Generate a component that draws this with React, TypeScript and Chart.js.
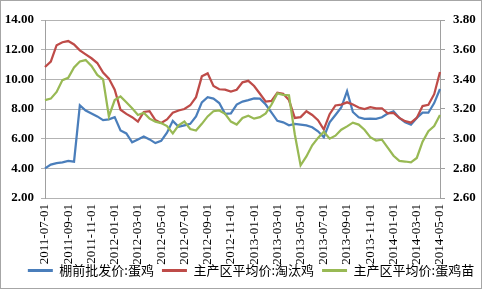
import React, { useEffect, useRef } from 'react';
import { Chart, registerables } from 'chart.js';

Chart.register(...registerables);

const DATES = [
  '2011-07-01', '2011-07-16', '2011-08-01', '2011-08-16', '2011-09-01', '2011-09-16',
  '2011-10-01', '2011-10-16', '2011-11-01', '2011-11-16', '2011-12-01', '2011-12-16',
  '2012-01-01', '2012-01-16', '2012-02-01', '2012-02-16', '2012-03-01', '2012-03-16',
  '2012-04-01', '2012-04-16', '2012-05-01', '2012-05-16', '2012-06-01', '2012-06-16',
  '2012-07-01', '2012-07-16', '2012-08-01', '2012-08-16', '2012-09-01', '2012-09-16',
  '2012-10-01', '2012-10-16', '2012-11-01', '2012-11-16', '2012-12-01', '2012-12-16',
  '2013-01-01', '2013-01-16', '2013-02-01', '2013-02-16', '2013-03-01', '2013-03-16',
  '2013-04-01', '2013-04-16', '2013-05-01', '2013-05-16', '2013-06-01', '2013-06-16',
  '2013-07-01', '2013-07-16', '2013-08-01', '2013-08-16', '2013-09-01', '2013-09-16',
  '2013-10-01', '2013-10-16', '2013-11-01', '2013-11-16', '2013-12-01', '2013-12-16',
  '2014-01-01', '2014-01-16', '2014-02-01', '2014-02-16', '2014-03-01', '2014-03-16',
  '2014-04-01', '2014-04-16', '2014-05-01',
];

const TICK_LABELS = [
  '2011-07-01', '2011-09-01', '2011-11-01', '2012-01-01', '2012-03-01', '2012-05-01',
  '2012-07-01', '2012-09-01', '2012-11-01', '2013-01-01', '2013-03-01', '2013-05-01',
  '2013-07-01', '2013-09-01', '2013-11-01', '2014-01-01', '2014-03-01', '2014-05-01',
];

const SERIES_NAMES = ['棚前批发价:蛋鸡', '主产区平均价:淘汰鸡', '主产区平均价:蛋鸡苗'];

// 棚前批发价:蛋鸡 (left axis)
const WHOLESALE = [
  4.0, 4.25, 4.35, 4.4, 4.5, 4.45, 8.25, 7.9, 7.7, 7.5, 7.25, 7.3,
  7.45, 6.55, 6.35, 5.75, 5.95, 6.15, 5.95, 5.7, 5.85, 6.4, 7.2, 6.8,
  6.9, 7.0, 7.5, 8.45, 8.8, 8.7, 8.4, 7.67, 7.7, 8.3, 8.5, 8.6,
  8.72, 8.7, 8.3, 7.75, 7.2, 7.1, 6.9, 7.0, 6.95, 6.9, 6.77, 6.5,
  6.1, 7.1, 7.6, 8.1, 9.2, 7.8, 7.44, 7.33, 7.35, 7.33, 7.44, 7.7,
  7.85, 7.4, 7.1, 6.95, 7.4, 7.75, 7.75, 8.4, 9.35,
];

// 主产区平均价:淘汰鸡 (left axis)
const CULL = [
  10.83, 11.2, 12.3, 12.5, 12.58, 12.35, 11.95, 11.68, 11.42, 11.1, 10.45, 10.05,
  9.3, 7.95, 7.67, 7.45, 7.15, 7.8, 7.85, 7.25, 7.06, 7.3, 7.75, 7.9,
  8.0, 8.25, 8.8, 10.2, 10.4, 9.55, 9.33, 9.3, 9.17, 9.3, 9.8, 9.9,
  9.55, 9.03, 8.5, 8.55, 9.1, 9.03, 8.6, 7.4, 7.45, 7.85, 7.6, 7.25,
  6.62, 7.65, 8.24, 8.3, 8.45, 8.3, 8.1, 8.0, 8.12, 8.05, 8.05, 7.7,
  7.74, 7.4, 7.18, 7.08, 7.4, 8.2, 8.28, 9.0, 10.5,
];

// 主产区平均价:蛋鸡苗 (right axis)
const CHICKS = [
  3.26, 3.27, 3.315, 3.395, 3.41, 3.48, 3.52, 3.53, 3.49, 3.43, 3.4, 3.15,
  3.26, 3.285, 3.245, 3.205, 3.16, 3.175, 3.135, 3.115, 3.105, 3.085, 3.035, 3.09,
  3.115, 3.065, 3.055, 3.1, 3.15, 3.185, 3.19, 3.167, 3.115, 3.095, 3.14, 3.155,
  3.135, 3.145, 3.17, 3.23, 3.305, 3.295, 3.292, 3.03, 2.82, 2.88, 2.955, 3.005,
  3.047, 3.0, 3.02, 3.06, 3.083, 3.108, 3.095, 3.06, 3.01, 2.987, 2.993, 2.94,
  2.885, 2.85, 2.846, 2.84, 2.87, 2.98, 3.05, 3.085, 3.16,
];

const COLORS = ['#4A7EBB', '#BE4B48', '#98B954'];

const framePlugin = {
  id: 'frame',
  afterLayout(chart: any) {
    if (chart.legend) {
      chart.legend.left += 10;
      chart.legend.right += 10;
    }
  },
  afterDraw(chart: any) {
    const ctx = chart.ctx;
    ctx.save();
    ctx.strokeStyle = '#a6a6a6';
    ctx.lineWidth = 1;
    ctx.strokeRect(0.5, 0.5, chart.width - 1, chart.height - 2);
    ctx.restore();
  },
};

export default function App() {
  const ref = useRef<HTMLCanvasElement | null>(null);

  useEffect(() => {
    if (!ref.current) return;
    const serif = '"Liberation Serif", "Times New Roman", serif';
    const chart = new Chart(ref.current, {
      type: 'line',
      data: {
        labels: DATES,
        datasets: [
          { label: SERIES_NAMES[0], data: WHOLESALE, borderColor: COLORS[0], backgroundColor: COLORS[0], yAxisID: 'y', order: 3 },
          { label: SERIES_NAMES[1], data: CULL, borderColor: COLORS[1], backgroundColor: COLORS[1], yAxisID: 'y', order: 2 },
          { label: SERIES_NAMES[2], data: CHICKS, borderColor: COLORS[2], backgroundColor: COLORS[2], yAxisID: 'y1', order: 1 },
        ],
      },
      options: {
        responsive: false,
        animation: false,
        elements: {
          line: { tension: 0, borderWidth: 2.25, fill: false },
          point: { radius: 0, hoverRadius: 0 },
        },
        layout: { padding: { top: 20, bottom: 3, left: 0, right: 0 } },
        plugins: {
          tooltip: { enabled: false },
          legend: {
            position: 'bottom',
            labels: {
              font: { family: '"Noto Sans CJK SC", sans-serif', size: 13 },
              color: '#000',
              boxWidth: 25,
              boxHeight: 3,
              padding: 8,
              sort: (a: any, b: any) => a.datasetIndex - b.datasetIndex,
              generateLabels: (c: any) =>
                (Chart.defaults as any).plugins.legend.labels
                  .generateLabels(c)
                  .map((l: any) => ({ ...l, lineWidth: 0, fillStyle: l.strokeStyle })),
            },
          },
        },
        scales: {
          x: {
            grid: { display: false, drawTicks: false },
            border: { display: false },
            ticks: {
              autoSkip: false,
              minRotation: 90,
              maxRotation: 90,
              padding: 6,
              color: '#000',
              font: { family: serif, size: 13 },
              callback: (_v: any, i: number) => (TICK_LABELS.includes(DATES[i]) ? DATES[i] : null),
            },
            afterFit: (s: any) => {
              s.height = 58;
              s._computeLabelArea = () => null;
            },
          },
          y: {
            position: 'left',
            min: 2,
            max: 14,
            ticks: {
              stepSize: 2,
              padding: 7,
              color: '#000',
              font: { family: serif, size: 13, weight: 'bold' },
              callback: (v: any) => Number(v).toFixed(2),
            },
            grid: { color: '#b3b3b3', tickLength: 4 },
            border: { color: '#a0a0a0' },
            afterFit: (s: any) => { s.width = 45; },
          },
          y1: {
            position: 'right',
            min: 2.6,
            max: 3.8,
            ticks: {
              stepSize: 0.2,
              padding: 8,
              color: '#000',
              font: { family: serif, size: 13, weight: 'bold' },
              callback: (v: any) => Number(v).toFixed(2),
            },
            grid: { drawOnChartArea: false, color: '#a0a0a0', tickLength: 5 },
            border: { color: '#a0a0a0' },
            afterFit: (s: any) => { s.width = 42; },
          },
        },
      },
      plugins: [framePlugin],
    } as any);
    return () => chart.destroy();
  }, []);

  return (
    <div style={{ position: 'fixed', left: 0, top: 0, width: 482, height: 290, background: '#fff' }}>
      <canvas ref={ref} width={482} height={290} />
    </div>
  );
}
